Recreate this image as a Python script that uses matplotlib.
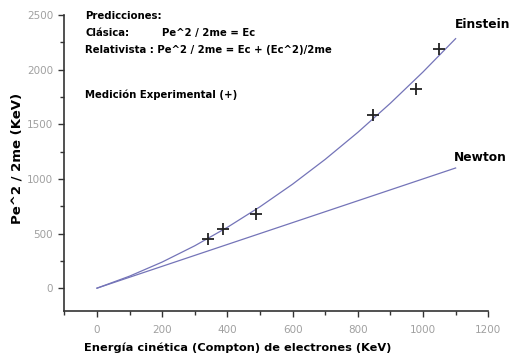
import matplotlib
matplotlib.use("Agg")
import matplotlib.pyplot as plt
from matplotlib.ticker import MultipleLocator

# curvas teoricas (KeV)
ec_teo = [0, 100, 200, 300, 400, 500, 600, 700, 800, 900, 1000, 1100]
einstein = [0, 110, 239, 388, 557, 745, 952, 1179, 1426, 1693, 1979, 2284]
ec_newton = [0, 1100]
newton = [0, 1100]

# medicion experimental
ec_exp = [341, 387, 489, 848, 977, 1048]
pe_exp = [450, 541, 682, 1581, 1826, 2186]

line_col = '#7474b8'
gray = '#a0a0a0'

fig = plt.figure(figsize=(5.15, 3.58), dpi=100)
ax = fig.add_axes([0.125, 0.131, 0.823, 0.827])

ax.plot(ec_teo, einstein, color=line_col, lw=0.9)
ax.plot(ec_newton, newton, color=line_col, lw=0.9)
ax.plot(ec_exp, pe_exp, '+', color='#222222', ms=8, mew=1.3)

ax.set_xlim(-100, 1200)
ax.set_ylim(-210, 2500)
ax.xaxis.set_major_locator(MultipleLocator(200))
ax.xaxis.set_minor_locator(MultipleLocator(100))
ax.yaxis.set_major_locator(MultipleLocator(500))
ax.yaxis.set_minor_locator(MultipleLocator(250))
ax.spines['top'].set_visible(False)
ax.spines['right'].set_visible(False)
for s in ('left', 'bottom'):
    ax.spines[s].set_linewidth(1.2)
    ax.spines[s].set_color('#333333')
ax.tick_params(which='major', direction='out', length=4, width=1, color='#333333',
               labelsize=7.5, labelcolor=gray)
ax.tick_params(axis='x', which='major', pad=6)
ax.tick_params(axis='y', which='major', pad=4)
ax.tick_params(which='minor', direction='out', length=3, width=1, color='#333333')

ax.set_xlabel('Energía cinética (Compton) de electrones (KeV)', fontsize=8.2, fontweight='bold',
              va='center')
ax.xaxis.set_label_coords((238 - 64.5) / 423.5, -(348 - 311) / 296)
ax.set_ylabel('Pe^2 / 2me (KeV)', fontsize=9.5, fontweight='bold', va='center')
ax.yaxis.set_label_coords(-(64.5 - 17) / 423.5, (311 - 158) / 296)

fs = 7.3
fig.text(85 / 515, 1 - 16 / 358, 'Predicciones:', fontsize=fs, fontweight='bold', va='center')
fig.text(85 / 515, 1 - 33 / 358, 'Clásica:', fontsize=fs, fontweight='bold', va='center')
fig.text(162 / 515, 1 - 33 / 358, 'Pe^2 / 2me = Ec', fontsize=fs, fontweight='bold', va='center')
fig.text(85 / 515, 1 - 50 / 358, 'Relativista : Pe^2 / 2me = Ec + (Ec^2)/2me', fontsize=fs,
         fontweight='bold', va='center')
fig.text(85 / 515, 1 - 95 / 358, 'Medición Experimental (+)', fontsize=fs, fontweight='bold', va='center')

fig.text(483 / 515, 1 - 25 / 358, 'Einstein', fontsize=8.8, fontweight='bold', va='center', ha='center')
fig.text(480 / 515, 1 - 158 / 358, 'Newton', fontsize=8.8, fontweight='bold', va='center', ha='center')

fig.savefig('out.png', dpi=100)
